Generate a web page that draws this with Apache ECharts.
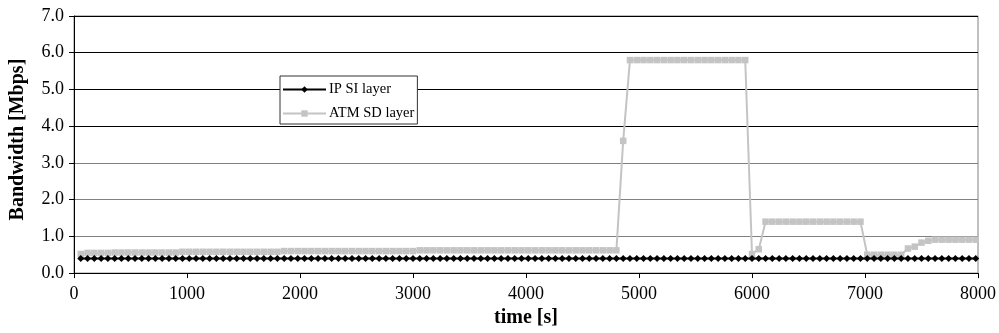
<!DOCTYPE html>
<html><head><meta charset="utf-8">
<script src="https://cdn.jsdelivr.net/npm/echarts@6/dist/echarts.min.js"></script>
<style>html,body{margin:0;padding:0;background:#fff}#c{width:999px;height:333px}</style>
</head><body><div id="c"></div>
<script>
const times = [
60,120,180,240,300,360,420,480,540,600,
660,720,780,840,900,960,1020,1080,1140,1200,
1260,1320,1380,1440,1500,1560,1620,1680,1740,1800,
1860,1920,1980,2040,2100,2160,2220,2280,2340,2400,
2460,2520,2580,2640,2700,2760,2820,2880,2940,3000,
3060,3120,3180,3240,3300,3360,3420,3480,3540,3600,
3660,3720,3780,3840,3900,3960,4020,4080,4140,4200,
4260,4320,4380,4440,4500,4560,4620,4680,4740,4800,
4860,4920,4980,5040,5100,5160,5220,5280,5340,5400,
5460,5520,5580,5640,5700,5760,5820,5880,5940,6000,
6060,6120,6180,6240,6300,6360,6420,6480,6540,6600,
6660,6720,6780,6840,6900,6960,7020,7080,7140,7200,
7260,7320,7380,7440,7500,7560,7620,7680,7740,7800,
7860,7920,7980];
const ipSI = [
0.4,0.4,0.4,0.4,0.4,0.4,0.4,0.4,0.4,0.4,
0.4,0.4,0.4,0.4,0.4,0.4,0.4,0.4,0.4,0.4,
0.4,0.4,0.4,0.4,0.4,0.4,0.4,0.4,0.4,0.4,
0.4,0.4,0.4,0.4,0.4,0.4,0.4,0.4,0.4,0.4,
0.4,0.4,0.4,0.4,0.4,0.4,0.4,0.4,0.4,0.4,
0.4,0.4,0.4,0.4,0.4,0.4,0.4,0.4,0.4,0.4,
0.4,0.4,0.4,0.4,0.4,0.4,0.4,0.4,0.4,0.4,
0.4,0.4,0.4,0.4,0.4,0.4,0.4,0.4,0.4,0.4,
0.4,0.4,0.4,0.4,0.4,0.4,0.4,0.4,0.4,0.4,
0.4,0.4,0.4,0.4,0.4,0.4,0.4,0.4,0.4,0.4,
0.4,0.4,0.4,0.4,0.4,0.4,0.4,0.4,0.4,0.4,
0.4,0.4,0.4,0.4,0.4,0.4,0.4,0.4,0.4,0.4,
0.4,0.4,0.4,0.4,0.4,0.4,0.4,0.4,0.4,0.4,
0.4,0.4,0.4];
const atmSD = [
0.52,0.55,0.55,0.55,0.55,0.56,0.56,0.56,0.56,0.56,
0.56,0.56,0.56,0.56,0.56,0.58,0.58,0.58,0.58,0.58,
0.58,0.58,0.58,0.58,0.58,0.58,0.58,0.58,0.58,0.58,
0.60,0.60,0.60,0.60,0.60,0.60,0.60,0.60,0.60,0.60,
0.60,0.60,0.60,0.60,0.60,0.60,0.60,0.60,0.60,0.60,
0.62,0.62,0.62,0.62,0.62,0.62,0.62,0.62,0.62,0.62,
0.62,0.62,0.62,0.62,0.62,0.62,0.62,0.62,0.62,0.62,
0.62,0.62,0.62,0.62,0.62,0.62,0.62,0.62,0.62,0.62,
3.6,5.8,5.8,5.8,5.8,5.8,5.8,5.8,5.8,5.8,
5.8,5.8,5.8,5.8,5.8,5.8,5.8,5.8,5.8,0.52,
0.65,1.4,1.4,1.4,1.4,1.4,1.4,1.4,1.4,1.4,
1.4,1.4,1.4,1.4,1.4,1.4,0.5,0.5,0.5,0.5,
0.5,0.5,0.67,0.72,0.83,0.88,0.91,0.91,0.91,0.91,
0.91,0.91,0.91];
const seriesNames = ['IP SI layer', 'ATM SD layer'];
const xTitle = 'time [s]';
const yTitle = 'Bandwidth [Mbps]';

const FONT = 'Liberation Serif';
const chart = echarts.init(document.getElementById('c'), null, {renderer: 'canvas'});
chart.setOption({
  animation: false,
  backgroundColor: '#fff',
  grid: {left: 72, right: 21, top: 16, bottom: 57, show: true, borderColor: '#808080', borderWidth: 1, backgroundColor: 'transparent'},
  legend: {
    orient: 'vertical', left: 280, top: 76,
    padding: [5, 3, 2, 2], itemGap: 7, itemWidth: 43, itemHeight: 8,
    backgroundColor: '#fff', borderColor: '#333', borderWidth: 1,
    textStyle: {fontFamily: FONT, fontSize: 14.5, color: '#000', padding: [0, 0, 0, -2], height: 17, lineHeight: 17},
    data: seriesNames
  },
  xAxis: {
    type: 'value', min: 0, max: 8000, interval: 1000,
    name: xTitle, nameLocation: 'middle', nameGap: 34,
    nameTextStyle: {fontFamily: FONT, fontSize: 20, fontWeight: 'bold', color: '#000'},
    axisLine: {show: true, lineStyle: {color: '#000', width: 1}},
    axisTick: {show: true, length: 5, lineStyle: {color: '#000'}},
    axisLabel: {fontFamily: FONT, fontSize: 18, color: '#000', margin: 12, formatter: v => String(v)},
    splitLine: {show: false}
  },
  yAxis: {
    type: 'value', min: 0, max: 7, interval: 1,
    name: yTitle, nameLocation: 'middle', nameGap: 46, nameRotate: 90,
    nameTextStyle: {fontFamily: FONT, fontSize: 20, fontWeight: 'bold', color: '#000', padding: [0, 0, 0, 10]},
    axisLine: {show: true, lineStyle: {color: '#000', width: 1}},
    axisTick: {show: true, length: 5, lineStyle: {color: '#000'}},
    axisLabel: {fontFamily: FONT, fontSize: 18, color: '#000', margin: 10, formatter: v => v.toFixed(1)},
    splitLine: {show: true, showMinLine: true, showMaxLine: true,
      lineStyle: {color: ['#808080','#808080','#808080','#808080','#000','#000','#000','#000'], width: 1}}
  },
  series: [
    {
      name: seriesNames[1], type: 'line', z: 2,
      data: times.map((t, i) => [t, atmSD[i]]),
      symbol: 'rect', symbolSize: 6.5, showAllSymbol: true,
      lineStyle: {color: '#c4c4c4', width: 2},
      itemStyle: {color: '#c4c4c4', borderWidth: 0}
    },
    {
      name: seriesNames[0], type: 'line', z: 3,
      data: times.map((t, i) => [t, ipSI[i]]),
      symbol: 'diamond', symbolSize: 7, showAllSymbol: true,
      lineStyle: {color: '#000', width: 2},
      itemStyle: {color: '#000', borderWidth: 0}
    }
  ]
});
</script></body></html>
